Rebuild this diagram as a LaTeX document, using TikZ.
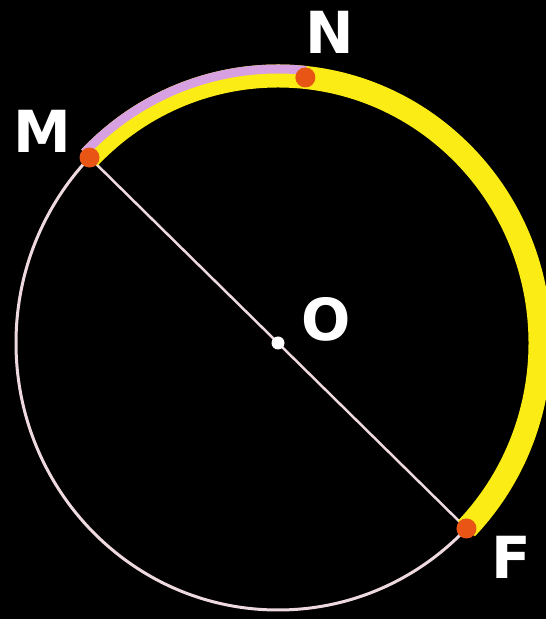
\documentclass[tikz,border=0pt]{standalone}
\usepackage{fontspec}
\setmainfont{DejaVu Sans}
\usetikzlibrary{calc}
\begin{document}
\begin{tikzpicture}[x=1pt,y=1pt,
  thin line/.style={draw=pinkwhite,line width=3pt},
  band/.style={line width=23pt,draw=bandyellow},
  violetband/.style={line width=9pt,draw=bandviolet},
  pt/.style={circle,fill=dotorange,inner sep=0pt,minimum size=20pt},
  lab/.style={text=white,font=\fontsize{58}{58}\selectfont\bfseries,inner sep=0pt}]
\definecolor{pinkwhite}{RGB}{238,218,222}
\definecolor{bandyellow}{RGB}{250,236,20}
\definecolor{bandviolet}{RGB}{215,160,225}
\definecolor{dotorange}{RGB}{232,85,20}
\fill[black] (0,0) rectangle (546,619);
\useasboundingbox (0,0) rectangle (546,619);
\clip (0,0) rectangle (546,619);
\coordinate (C) at (278,276);
\coordinate (M) at ($(C)+(136:262 and 267)$);
\coordinate (N) at ($(C)+(84:262 and 267)$);
\coordinate (F) at ($(C)+(-44:262 and 267)$);
% thin circle
\draw[thin line] (C) ellipse[x radius=262, y radius=267];
% diameter
\draw[thin line,line width=2.5pt] (M) -- (F);
% yellow arc
\draw[band] (M) arc[start angle=136, end angle=-44, x radius=262, y radius=267];
% violet outer part from M to N
\draw[violetband] ($(C)+(136:269 and 274)$) arc[start angle=136, end angle=84, x radius=269, y radius=274];
% points
\node[pt] (m) at (M) {};
\node[pt] (n) at (N) {};
\node[pt] (f) at (F) {};
\node[circle,fill=white,inner sep=0pt,minimum size=13pt] (o) at (C) {};
% labels
\node[lab] (lM) at (42,488) {M};
\node[lab] (lN) at (330,587) {N};
\node[lab] (lO) at (326,300) {O};
\node[lab] (lF) at (511,62) {F};
\end{tikzpicture}
\end{document}
